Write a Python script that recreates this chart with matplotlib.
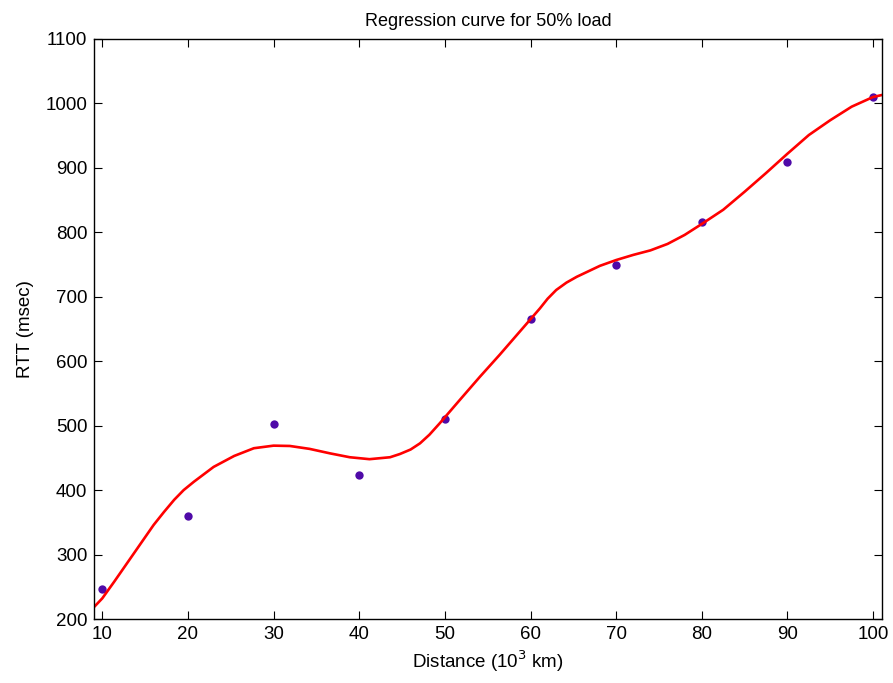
import matplotlib
matplotlib.use("Agg")
import matplotlib.pyplot as plt

plt.rcParams["font.family"] = ["Liberation Sans", "DejaVu Sans"]

# measured RTT at each distance (10^3 km)
dist = [10, 20, 30, 40, 50, 60, 70, 80, 90, 100]
rtt = [247, 360, 502, 423, 511, 666, 749, 816, 909, 1010]

# fitted regression curve, sampled along the distance axis
fit_x = [9.07, 10, 11.4, 13.7, 16.0, 17.2, 18.4, 19.5, 20.7, 23.0, 25.4,
         27.7, 30.0, 31.9, 34.2, 36.6, 38.9, 41.2, 43.6, 44.75, 46.0, 47.1,
         48.2, 49.4, 51.75, 54.1, 56.4, 58.75, 61.1, 62.0, 63.0, 64.2, 65.4,
         68.1, 70.0, 72.0, 74.0, 76.0, 78.0, 80, 82.5, 85, 87.5, 90, 92.5,
         95, 97.5, 100, 101]
fit_y = [219, 232, 258, 302, 346, 366, 385, 400, 413, 436, 453,
         465, 469, 468.5, 464, 457, 451, 448, 451, 456, 463, 472.6,
         486, 503.7, 540, 576, 610, 646, 682, 697, 710.5, 722, 731,
         748, 757, 765, 772, 782, 796, 813, 835, 863, 892, 922, 951,
         974, 995, 1010, 1013]

xticks = [10, 20, 30, 40, 50, 60, 70, 80, 90, 100]
yticks = [200, 300, 400, 500, 600, 700, 800, 900, 1000, 1100]

fig = plt.figure(figsize=(8.93, 6.83), dpi=100)
ax = fig.add_axes([0.1056, 0.0937, 0.8817, 0.8492])

ax.plot(dist, rtt, "o", color="#4f0aa8", markersize=6, markeredgewidth=0)
ax.plot(fit_x, fit_y, color="red", linewidth=1.9)

ax.set_xlim(9.07, 101)
ax.set_ylim(200, 1100)
ax.set_xticks(xticks)
ax.set_yticks(yticks)
ax.tick_params(direction="in", length=5.5, width=0.8, top=True, right=True,
               labelsize=13.5, pad=5)
for s in ax.spines.values():
    s.set_linewidth(1.0)

ax.set_title("Regression curve for 50% load", fontsize=13, pad=9)
ax.set_xlabel("Distance (10$^3$ km)", fontsize=13.5, labelpad=4)
ax.set_ylabel("RTT (msec)", fontsize=13.5, labelpad=8)

fig.savefig("out.png", dpi=100)
